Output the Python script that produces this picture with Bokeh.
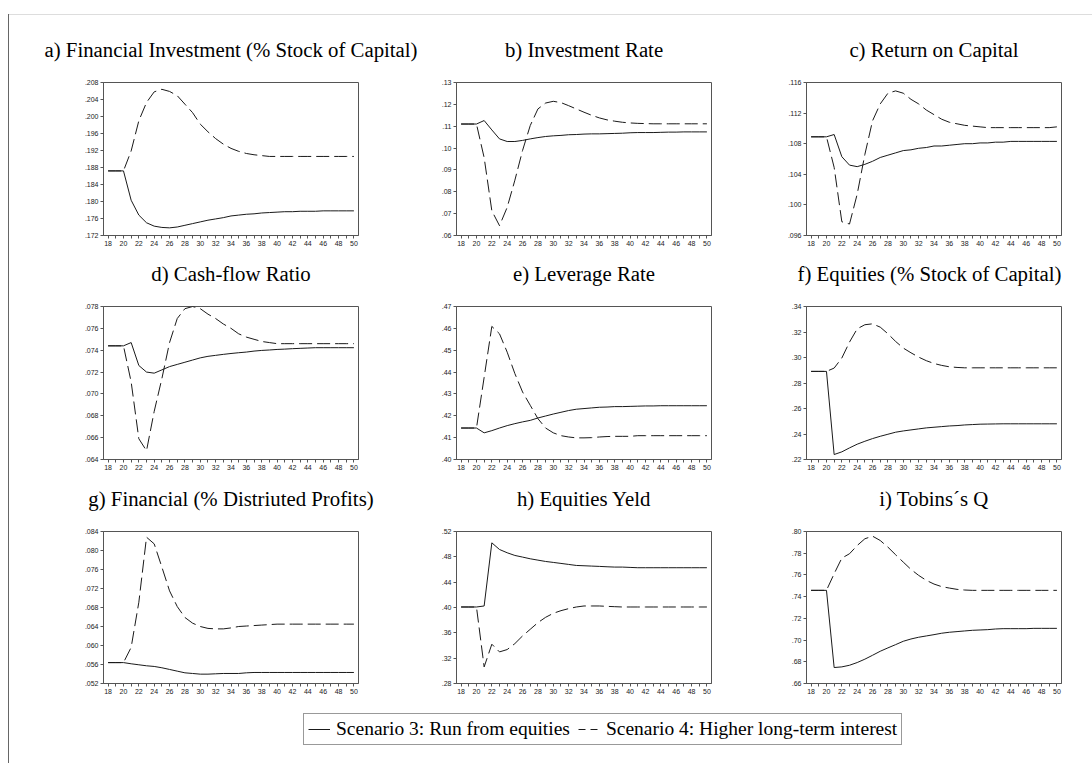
from bokeh.plotting import figure
from bokeh.models import Range1d, FixedTicker, CustomJSTickFormatter, Legend, LegendItem, Div, Spacer
from bokeh.layouts import column, row
from bokeh.embed import file_html
from bokeh.resources import INLINE

years = list(range(18, 51))
x_ticks = list(range(18, 51, 2))
x_minor = list(range(19, 50, 2))

titles = [
    "a) Financial Investment (% Stock of Capital)",
    "b) Investment Rate",
    "c) Return on Capital",
    "d) Cash-flow Ratio",
    "e) Leverage Rate",
    "f) Equities (% Stock of Capital)",
    "g) Financial (% Distriuted Profits)",
    "h) Equities Yeld",
    "i) Tobins\u00b4s Q",
]

legend_labels = ["Scenario 3: Run from equities", "Scenario 4: Higher long-term interest"]

# Scenario 3 (solid) and Scenario 4 (dashed) series, years 18..50
a_s3 = [.1872, .1872, .1872, .1803, .1768, .1750, .1742, .1739, .1738, .1740, .1744, .1748, .1752, .1756, .1759,
        .1762, .1766, .1768, .1770, .1771, .1773, .1774, .1775, .1776, .1776, .1777, .1777, .1777, .1778, .1778,
        .1778, .1778, .1778]
a_s4 = [.1872, .1872, .1872, .1919, .1990, .2033, .2058, .2064, .2059, .2049, .2029, .2009, .1982, .1964, .1948,
        .1935, .1925, .1918, .1913, .1910, .1908, .1906, .1906, .1906, .1906, .1906, .1906, .1906, .1906, .1906,
        .1906, .1906, .1906]
b_s3 = [.111, .111, .111, .1126, .1083, .1042, .1030, .1030, .1035, .1042, .1048, .1053, .1056, .1058, .1061,
        .1062, .1064, .1065, .1065, .1066, .1067, .1068, .1070, .1071, .1071, .1071, .1072, .1073, .1073, .1074,
        .1074, .1074, .1074]
b_s4 = [.111, .111, .111, .0956, .0713, .0645, .0729, .0853, .0989, .1103, .1179, .1206, .1214, .1208, .1194,
        .1179, .1164, .1150, .1138, .1129, .1123, .1118, .1115, .1113, .1112, .1111, .1111, .1111, .1111, .1111,
        .1111, .1111, .1111]
c_s3 = [.1089, .1089, .1089, .1092, .1063, .1052, .1050, .1053, .1057, .1062, .1065, .1068, .1071, .1072, .1074,
        .1075, .1077, .1077, .1078, .1079, .1080, .1080, .1081, .1081, .1082, .1082, .1083, .1083, .1083, .1083,
        .1083, .1083, .1083]
c_s4 = [.1089, .1089, .1089, .1049, .0978, .0975, .1014, .1066, .1110, .1132, .1146, .1149, .1146, .1138, .1132,
        .1124, .1118, .1112, .1108, .1106, .1104, .1103, .1102, .1101, .1101, .1101, .1101, .1101, .1101, .1101,
        .1101, .1101, .1102]
d_s3 = [.0744, .0744, .0744, .0747, .0726, .0720, .0719, .0722, .0725, .0727, .0729, .0731, .0733, .07344, .07353,
        .07362, .0737, .07377, .07383, .07392, .07398, .07402, .07407, .0741, .07414, .07417, .0742, .07423, .07423,
        .07423, .07423, .07423, .07423]
d_s4 = [.0744, .0744, .0744, .0711, .0659, .0648, .0684, .0714, .0747, .0769, .0778, .0780, .0778, .0773, .0769,
        .0764, .0760, .0755, .0752, .0750, .0748, .0747, .0746, .0746, .0746, .0746, .0746, .0746, .0746, .0746,
        .0746, .0746, .0746]
e_s3 = [.4144, .4144, .4144, .4122, .4132, .4144, .4155, .4164, .4172, .4179, .4190, .4199, .4208, .4216, .4224,
        .4230, .4233, .4236, .4239, .4240, .4242, .4242, .4243, .4244, .4245, .4245, .4246, .4246, .4246, .4246,
        .4246, .4246, .4246]
e_s4 = [.4144, .4144, .4144, .4376, .4609, .4575, .4491, .4393, .4309, .4248, .4187, .4144, .4122, .4109, .4103,
        .4099, .4099, .4100, .4103, .4105, .4106, .4106, .4106, .4109, .4109, .4109, .4109, .4109, .4109, .4109,
        .4109, .4109, .4109]
f_s3 = [.2891, .2891, .2891, .2239, .2260, .2291, .2320, .2343, .2364, .2382, .2398, .2414, .2424, .2432, .2440,
        .2448, .2453, .2458, .2463, .2466, .2471, .2474, .2477, .2478, .2479, .2480, .2480, .2480, .2480, .2480,
        .2480, .2480, .2480]
f_s4 = [.2891, .2891, .2891, .2917, .2996, .3121, .3225, .3257, .3264, .3238, .3186, .3126, .3074, .3037, .3003,
        .2975, .2953, .2938, .2927, .2922, .2919, .2919, .2919, .2919, .2919, .2919, .2919, .2919, .2919, .2919,
        .2919, .2919, .2919]
g_s3 = [.0564, .0564, .0564, .05615, .05594, .05573, .05559, .05531, .05496, .0546, .05425, .05411, .05397, .05397,
        .05404, .05411, .05411, .05411, .05425, .05432, .05432, .05432, .05432, .05432, .05432, .05432, .05432,
        .05432, .05432, .05432, .05432, .05432, .05432]
g_s4 = [.0564, .0564, .0564, .0596, .0691, .0828, .0814, .0765, .0715, .0682, .0659, .0647, .0640, .0636, .0635,
        .0635, .0637, .0640, .0641, .0642, .0643, .0644, .0645, .0645, .0645, .0645, .0645, .0645, .0645, .0645,
        .0645, .0645, .0645]
h_s3 = [.4008, .4008, .4008, .4024, .5021, .4916, .4864, .4822, .4796, .4769, .4748, .4727, .4712, .4696, .4680,
        .4664, .4659, .4654, .4649, .4643, .4638, .4638, .4633, .4628, .4628, .4628, .4628, .4628, .4628, .4628,
        .4628, .4628, .4628]
h_s4 = [.4008, .4008, .4008, .3062, .3420, .3299, .3336, .3430, .3551, .3656, .3761, .3845, .3908, .3950, .3982,
        .4008, .4024, .4024, .4024, .4018, .4013, .4008, .4008, .4008, .4008, .4008, .4008, .4008, .4008, .4008,
        .4008, .4008, .4008]
i_s3 = [.7458, .7458, .7458, .6747, .6753, .6768, .6793, .6824, .6860, .6897, .6928, .6958, .6989, .7010, .7026,
        .7038, .7050, .7063, .7072, .7078, .7084, .7090, .7093, .7096, .7102, .7105, .7105, .7105, .7105, .7108,
        .7108, .7108, .7108]
i_s4 = [.7458, .7458, .7458, .7611, .7755, .7795, .7871, .7933, .7957, .7917, .7856, .7786, .7718, .7651, .7596,
        .7550, .7516, .7492, .7479, .7467, .7461, .7458, .7458, .7458, .7458, .7458, .7458, .7458, .7458, .7458,
        .7458, .7458, .7458]

a_yticks = [.172, .176, .180, .184, .188, .192, .196, .200, .204, .208]
b_yticks = [.06, .07, .08, .09, .10, .11, .12, .13]
c_yticks = [.096, .100, .104, .108, .112, .116]
d_yticks = [.064, .066, .068, .070, .072, .074, .076, .078]
e_yticks = [.40, .41, .42, .43, .44, .45, .46, .47]
f_yticks = [.22, .24, .26, .28, .30, .32, .34]
g_yticks = [.052, .056, .060, .064, .068, .072, .076, .080, .084]
h_yticks = [.28, .32, .36, .40, .44, .48, .52]
i_yticks = [.66, .68, .70, .72, .74, .76, .78, .80]
y_decimals = [3, 2, 3, 3, 2, 2, 3, 2, 2]

series3 = [a_s3, b_s3, c_s3, d_s3, e_s3, f_s3, g_s3, h_s3, i_s3]
series4 = [a_s4, b_s4, c_s4, d_s4, e_s4, f_s4, g_s4, h_s4, i_s4]
yticks = [a_yticks, b_yticks, c_yticks, d_yticks, e_yticks, f_yticks, g_yticks, h_yticks, i_yticks]

col_left = [94, 36, 45]
col_right = [62, 50, 31]
row_top = [67, 48, 49]
row_frame_h = [153, 153, 152]
row_bottom = [23, 23, 23]
FRAME_W = 255
LINE_COL = "#1a1a1a"
DASH = "13 5"


def make_panel(k):
    r, c = divmod(k, 3)
    p = figure(frame_width=FRAME_W, frame_height=row_frame_h[r],
               min_border_left=col_left[c], min_border_right=col_right[c],
               min_border_top=row_top[r], min_border_bottom=row_bottom[r],
               x_range=Range1d(17.4, 50.6), y_range=Range1d(yticks[k][0], yticks[k][-1]),
               toolbar_location=None, output_backend="svg", title=titles[k])
    p.title.text_font = "Liberation Serif"
    p.title.text_font_size = "20.8px"
    p.title.text_font_style = "normal"
    p.title.text_color = "#000000"
    p.title.align = "right" if k == 5 else "center"
    p.title.standoff = 0
    p.title.padding = dict(left=0, right=0, top=0, bottom=22)
    p.grid.visible = False
    p.outline_line_color = "#555555"
    p.outline_line_width = 1
    p.background_fill_color = "white"
    p.border_fill_color = "white"

    p.xaxis.ticker = FixedTicker(ticks=x_ticks, minor_ticks=x_minor)
    p.yaxis.ticker = FixedTicker(ticks=yticks[k])
    d = y_decimals[k]
    p.yaxis.formatter = CustomJSTickFormatter(code="return tick.toFixed(%d).replace(/^0/, '');" % d)
    for ax in (p.xaxis[0], p.yaxis[0]):
        ax.axis_line_color = "#555555"
        ax.major_tick_line_color = "#555555"
        ax.minor_tick_line_color = "#555555"
        ax.major_tick_out = 3
        ax.major_tick_in = 0
        ax.major_label_text_font = "Liberation Sans"
        ax.major_label_text_font_size = "7px"
        ax.major_label_text_color = "#222222"
        ax.major_label_standoff = 2
    p.xaxis.minor_tick_out = 3
    p.xaxis.minor_tick_in = 0
    p.yaxis.minor_tick_out = 0
    p.yaxis.minor_tick_in = 0

    p.line(years, series3[k], line_color=LINE_COL, line_width=1)
    p.line(years, series4[k], line_color=LINE_COL, line_width=1, line_dash=DASH)
    return p


panels = [make_panel(k) for k in range(9)]

lf = figure(frame_width=1083, frame_height=57, min_border=0,
            x_range=Range1d(0, 1), y_range=Range1d(0, 1),
            x_axis_location=None, y_axis_location=None,
            toolbar_location=None, output_backend="svg")
lf.grid.visible = False
lf.outline_line_color = None
# legend sample lines: data kept outside the visible range
r1 = lf.line(x=[5, 6], y=[5, 6], line_color=LINE_COL, line_width=1)
r2 = lf.line(x=[5, 6], y=[5, 6], line_color=LINE_COL, line_width=1, line_dash="7 5")
leg = Legend(items=[LegendItem(label=legend_labels[0], renderers=[r1]),
                    LegendItem(label=legend_labels[1], renderers=[r2])],
             orientation="horizontal", location=(294, 18))
leg.border_line_color = "#333333"
leg.border_line_width = 1
leg.background_fill_color = "white"
leg.background_fill_alpha = 1
leg.label_text_font = "Liberation Serif"
leg.label_text_font_size = "19.5px"
leg.label_text_color = "#000000"
leg.glyph_width = 22
leg.glyph_height = 20
leg.label_height = 20
leg.padding = 4
leg.spacing = 8
leg.label_standoff = 6
leg.margin = 0
lf.add_layout(leg)

top_line = Div(text="", width=1083, height=1, margin=0, styles={"background-color": "#dddddd"})
left_line = Div(text="", width=1, height=749, margin=0, styles={"background-color": "#666666"})

content = column(top_line, row(*panels[0:3]), row(*panels[3:6]), row(*panels[6:9]), lf)
p = column(
    Spacer(width=1092, height=14, margin=0),
    row(Spacer(width=8, height=749, margin=0), left_line, content))

open("out.html", "w").write(file_html(p, INLINE))
